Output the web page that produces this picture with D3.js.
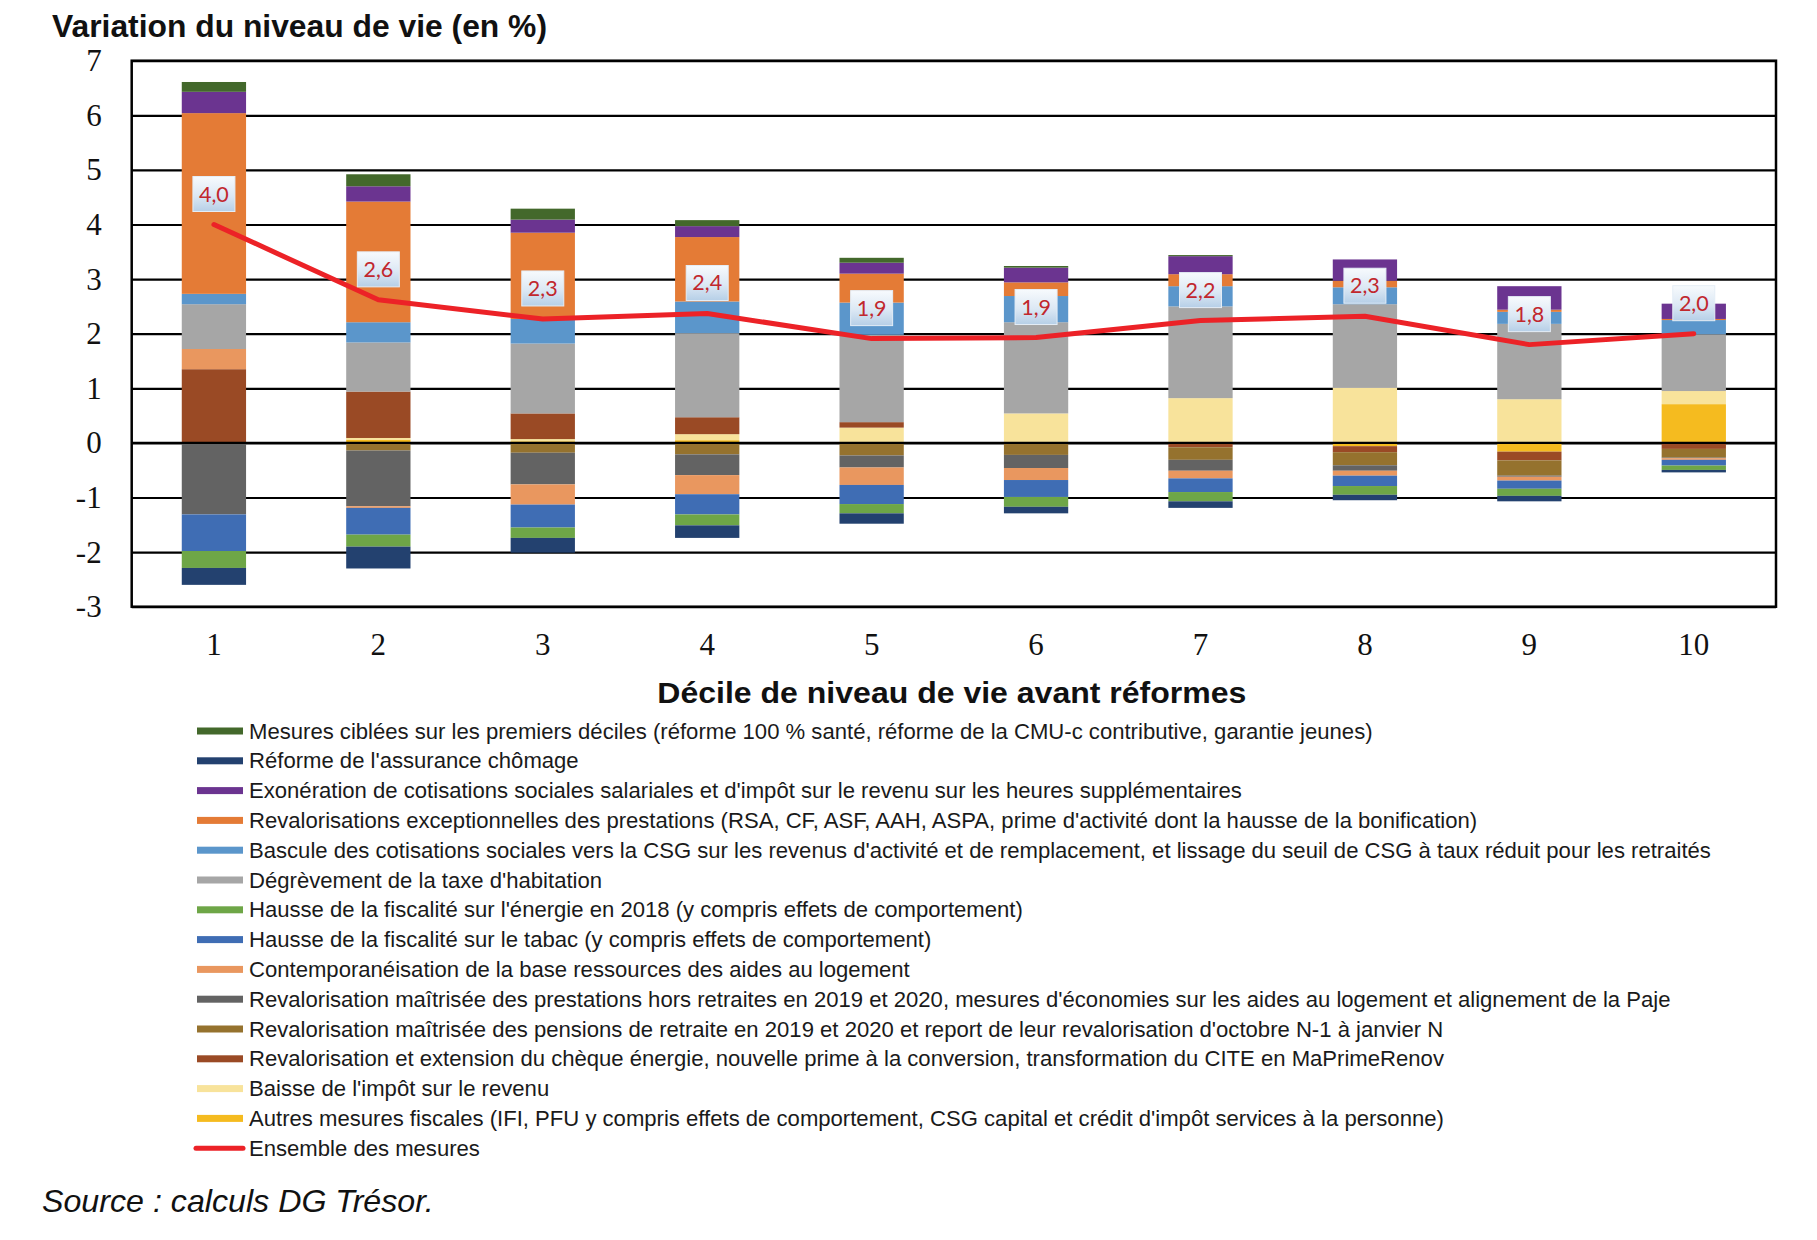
<!DOCTYPE html>
<html><head><meta charset="utf-8">
<script src="https://cdn.jsdelivr.net/npm/d3@7"></script>
<style>html,body{margin:0;padding:0;background:#fff;}svg{display:block;}</style>
</head><body>
<svg id="chart" width="1817" height="1240"></svg>
<script>
// ---------- DATA ----------
const deciles = ["1","2","3","4","5","6","7","8","9","10"];
const yTicks = [-3,-2,-1,0,1,2,3,4,5,6,7];

const mesuresCiblees      = [0.18, 0.22, 0.20, 0.11, 0.09, 0.03, 0.02, 0.00, 0.00, 0.00];
const assuranceChomage    = [-0.31,-0.40,-0.27,-0.23,-0.19,-0.12,-0.12,-0.10,-0.10,-0.045];
const exoneration         = [0.39, 0.28, 0.24, 0.20, 0.20, 0.27, 0.33, 0.39, 0.43, 0.28];
const revalExcep          = [3.31, 2.21, 1.58, 1.18, 0.53, 0.25, 0.22, 0.12, 0.04, 0.02];
const bascule             = [0.19, 0.37, 0.45, 0.58, 0.59, 0.48, 0.37, 0.31, 0.22, 0.26];
const degrevementTH       = [0.82, 0.90, 1.28, 1.54, 1.60, 1.67, 1.68, 1.53, 1.38, 1.04];
const energie             = [-0.31,-0.22,-0.19,-0.20,-0.17,-0.18,-0.17,-0.16,-0.13,-0.08];
const tabac               = [-0.67,-0.49,-0.42,-0.37,-0.35,-0.31,-0.25,-0.19,-0.15,-0.105];
const contemporaneisation = [0.37,-0.03,-0.37,-0.35,-0.32,-0.22,-0.14,-0.09,-0.07,-0.03];
const revalPrestations    = [-1.31,-1.02,-0.58,-0.38,-0.22,-0.24,-0.20,-0.10,-0.02,-0.01];
const pensions            = [0.00,-0.14,-0.18,-0.21,-0.23,-0.22,-0.23,-0.24,-0.28,-0.16];
const chequeEnergie       = [1.35, 0.85, 0.47, 0.31, 0.10, 0.00,-0.08,-0.11,-0.16,-0.11];
const baisseIR            = [0.00, 0.03, 0.04, 0.11, 0.28, 0.54, 0.82, 1.01, 0.80, 0.24];
const autresFiscales      = [0.00, 0.06, 0.03, 0.05, 0.00, 0.00, 0.00,-0.06,-0.16, 0.71];
const ensemble            = [4.00, 2.62, 2.27, 2.37, 1.91, 1.93, 2.24, 2.32, 1.80, 2.00];

const seriesLabels = [
  "Mesures ciblées sur les premiers déciles (réforme 100 % santé, réforme de la CMU-c contributive, garantie jeunes)",
  "Réforme de l'assurance chômage",
  "Exonération de cotisations sociales salariales et d'impôt sur le revenu sur les heures supplémentaires",
  "Revalorisations exceptionnelles des prestations (RSA, CF, ASF, AAH, ASPA, prime d'activité dont la hausse de la bonification)",
  "Bascule des cotisations sociales vers la CSG sur les revenus d'activité et de remplacement, et lissage du seuil de CSG à taux réduit pour les retraités",
  "Dégrèvement de la taxe d'habitation",
  "Hausse de la fiscalité sur l'énergie en 2018 (y compris effets de comportement)",
  "Hausse de la fiscalité sur le tabac (y compris effets de comportement)",
  "Contemporanéisation de la base ressources des aides au logement",
  "Revalorisation maîtrisée des prestations hors retraites en 2019 et 2020, mesures d'économies sur les aides au logement et alignement de la Paje",
  "Revalorisation maîtrisée des pensions de retraite en 2019 et 2020 et report de leur revalorisation d'octobre N-1 à janvier N",
  "Revalorisation et extension du chèque énergie, nouvelle prime à la conversion, transformation du CITE en MaPrimeRenov",
  "Baisse de l'impôt sur le revenu",
  "Autres mesures fiscales (IFI, PFU y compris effets de comportement, CSG capital et crédit d'impôt services à la personne)"
];
const lineLabel = "Ensemble des mesures";
const seriesValues = [mesuresCiblees, assuranceChomage, exoneration, revalExcep, bascule, degrevementTH,
  energie, tabac, contemporaneisation, revalPrestations, pensions, chequeEnergie, baisseIR, autresFiscales];
const seriesColors = ["#43682b","#23416f","#6b3490","#e47b36","#5b96cb","#a6a6a6","#6ea647","#3f6db4",
  "#e9975f","#636363","#95722e","#9a4a25","#f8e39b","#f5bb1f"];
const lineColor = "#ec2227";

const title = "Variation du niveau de vie (en %)";
const xTitle = "Décile de niveau de vie avant réformes";
const source = "Source : calculs DG Trésor.";

// ---------- LAYOUT ----------
const svg = d3.select("#chart");
const L = 131.7, R = 1776, T = 60.7, B = 606.7;

const x = d3.scaleBand().domain(deciles).range([L, R]).paddingInner(0.609).paddingOuter(0.3045);
const y = d3.scaleLinear().domain([-3, 7]).range([B, T]);

const keys = seriesLabels.map((_, i) => "s" + i);
const stackKeys = keys.slice().reverse();
const rows = deciles.map((d, j) => {
  const o = {decile: d};
  seriesValues.forEach((arr, i) => o["s" + i] = arr[j]);
  return o;
});
const stacked = d3.stack().keys(stackKeys).offset(d3.stackOffsetDiverging)(rows);
const colorOf = d3.scaleOrdinal().domain(keys).range(seriesColors);

// gridlines
const grid = svg.append("g").attr("transform", `translate(${L},0)`)
  .call(d3.axisLeft(y).tickValues(yTicks).tickSize(-(R - L)).tickFormat(""));
grid.select(".domain").remove();
grid.selectAll("line").attr("stroke", "#000").attr("stroke-width", 2.2);

// bars
svg.append("g").selectAll("g").data(stacked).join("g")
  .attr("fill", s => colorOf(s.key))
  .selectAll("rect").data(s => s).join("rect")
  .attr("x", d => x(d.data.decile))
  .attr("width", x.bandwidth())
  .attr("y", d => y(Math.max(d[0], d[1])))
  .attr("height", d => Math.abs(y(d[0]) - y(d[1])));

// zero line on top
svg.append("line").attr("x1", L).attr("x2", R).attr("y1", y(0)).attr("y2", y(0))
  .attr("stroke", "#000").attr("stroke-width", 2.2);

// plot border
svg.append("rect").attr("x", L).attr("y", T).attr("width", R - L).attr("height", B - T)
  .attr("fill", "none").attr("stroke", "#000").attr("stroke-width", 2.5);

// y axis labels (hyphen minus as in the original)
const yAx = svg.append("g").attr("transform", `translate(${L},0)`)
  .call(d3.axisLeft(y).tickValues(yTicks).tickSize(0).tickPadding(30).tickFormat(d => String(d)));
yAx.select(".domain").remove();
yAx.selectAll("text").attr("font-family", "Liberation Serif, serif").attr("font-size", 31).attr("fill", "#111");

// x axis labels
const xAx = svg.append("g").attr("transform", `translate(0,${B})`)
  .call(d3.axisBottom(x).tickSize(0).tickPadding(26.5));
xAx.select(".domain").remove();
xAx.selectAll("text").attr("font-family", "Liberation Serif, serif").attr("font-size", 31).attr("fill", "#111");

// line
const cx = d => x(d) + x.bandwidth() / 2;
const lineGen = d3.line().x((v, i) => cx(deciles[i])).y(v => y(v));
svg.append("path").datum(ensemble).attr("d", lineGen)
  .attr("fill", "none").attr("stroke", lineColor).attr("stroke-width", 5)
  .attr("stroke-linejoin", "round").attr("stroke-linecap", "round");

// data labels
const defs = svg.append("defs");
const grad = defs.append("linearGradient").attr("id", "lblGrad").attr("x1", 0).attr("x2", 0).attr("y1", 0).attr("y2", 1);
grad.append("stop").attr("offset", "0%").attr("stop-color", "#f7fafd");
grad.append("stop").attr("offset", "55%").attr("stop-color", "#dce8f4");
grad.append("stop").attr("offset", "100%").attr("stop-color", "#b6cfe7");
const fmt = v => d3.format(".1f")(v).replace(".", ",");
const lbl = svg.append("g").selectAll("g").data(ensemble).join("g")
  .attr("transform", (v, i) => `translate(${cx(deciles[i])},${y(v) - 30.5})`);
lbl.append("rect").attr("x", -21).attr("y", -17.5).attr("width", 42).attr("height", 35)
  .attr("fill", "url(#lblGrad)").attr("stroke", "#e4edf6").attr("stroke-width", 1);
lbl.append("text").attr("text-anchor", "middle").attr("y", 7.5)
  .attr("font-family", "Lato, 'Open Sans', sans-serif").attr("font-size", 21.5)
  .attr("fill", "#c1272d").text(v => fmt(v));

// title
svg.append("text").attr("x", 52).attr("y", 36.5)
  .attr("font-family", "Liberation Sans, Arial, sans-serif").attr("font-weight", "bold")
  .attr("font-size", 32).attr("textLength", 495).attr("lengthAdjust", "spacingAndGlyphs")
  .attr("fill", "#111").text(title);

// x title
svg.append("text").attr("x", (L + R) / 2 - 2).attr("y", 703).attr("text-anchor", "middle")
  .attr("font-family", "Liberation Sans, Arial, sans-serif").attr("font-weight", "bold")
  .attr("font-size", 30).attr("textLength", 589).attr("lengthAdjust", "spacingAndGlyphs")
  .attr("fill", "#111").text(xTitle);

// legend
const legY0 = 731, legStep = 29.8;
const leg = svg.append("g");
seriesLabels.forEach((name, i) => {
  const cy = legY0 + i * legStep;
  leg.append("rect").attr("x", 197).attr("y", cy - 3.5).attr("width", 46).attr("height", 7)
    .attr("fill", seriesColors[i]);
  leg.append("text").attr("x", 249).attr("y", cy + 7.6)
    .attr("font-family", "Liberation Sans, Arial, sans-serif").attr("font-size", 22.1)
    .attr("fill", "#1a1a1a").text(name);
});
{
  const cy = legY0 + seriesLabels.length * legStep;
  leg.append("line").attr("x1", 196).attr("x2", 243).attr("y1", cy).attr("y2", cy)
    .attr("stroke", lineColor).attr("stroke-width", 5).attr("stroke-linecap", "round");
  leg.append("text").attr("x", 249).attr("y", cy + 7.6)
    .attr("font-family", "Liberation Sans, Arial, sans-serif").attr("font-size", 22.1)
    .attr("fill", "#1a1a1a").text(lineLabel);
}

// source
svg.append("text").attr("x", 42).attr("y", 1212)
  .attr("font-family", "Liberation Sans, Arial, sans-serif").attr("font-style", "italic")
  .attr("font-size", 32.2).attr("fill", "#111").text(source);
</script>
</body></html>
